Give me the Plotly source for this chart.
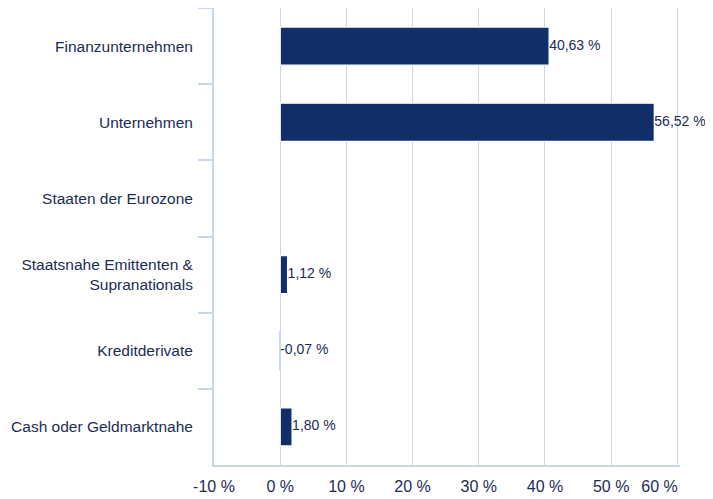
import plotly.graph_objects as go

categories = [
    "Finanzunternehmen",
    "Unternehmen",
    "Staaten der Eurozone",
    "Staatsnahe Emittenten &<br>Supranationals",
    "Kreditderivate",
    "Cash oder Geldmarktnahe",
]
values = [40.63, 56.52, None, 1.12, -0.07, 1.80]
tick_values = [-10, 0, 10, 20, 30, 40, 50, 60]
tick_labels = ["-10 %", "0 %", "10 %", "20 %", "30 %", "40 %", "50 %", "60 %" + "\u00a0" * 8]

NAVY = "#112e68"
TEXT = "#1b2c56"
GRID = "#c9d7ea"
FONT = "Liberation Sans, Arial, Helvetica, sans-serif"

label_cats = [c for c, v in zip(categories, values) if v is not None]
label_x = [max(v, 0) for v in values if v is not None]
label_txt = [f"{v:.2f}".replace(".", ",") + " %" for v in values if v is not None]
# bars thinner than a pixel blend into the zero grid line
bar_colors = [GRID if (v is not None and abs(v) < 0.5) else NAVY for v in values]
border_colors = [GRID if (v is not None and abs(v) < 0.5) else "white" for v in values]

fig = go.Figure()
fig.add_trace(go.Bar(
    y=categories, x=values, orientation="h",
    marker=dict(color=bar_colors, line=dict(color=border_colors, width=1.3)),
    width=0.5, hoverinfo="skip", showlegend=False,
))
fig.add_trace(go.Scatter(
    y=label_cats, x=label_x, mode="text", text=label_txt,
    textposition="middle right",
    textfont=dict(family=FONT, size=14, color=TEXT),
    hoverinfo="skip", showlegend=False, cliponaxis=False,
))

fig.update_layout(
    width=705, height=491,
    margin=dict(l=206, r=33, t=0, b=34),
    paper_bgcolor="white", plot_bgcolor="white",
    font=dict(family=FONT, color=TEXT),
    xaxis=dict(
        range=[-10, 60.4], tickvals=tick_values, ticktext=tick_labels,
        automargin=False, ticklabeloverflow="allow",
        showgrid=True, gridcolor=GRID, gridwidth=1.3,
        zeroline=False, showline=True, linecolor=GRID, linewidth=1.5,
        ticks="", tickfont=dict(family=FONT, size=16, color=TEXT),
        ticklabelstandoff=6,
    ),
    yaxis=dict(
        type="category", categoryorder="array", categoryarray=categories,
        autorange="reversed", automargin=False,
        showgrid=False, zeroline=False, showline=True, linecolor=GRID, linewidth=2,
        ticks="outside", tickson="boundaries", ticklen=14, tickcolor=GRID, tickwidth=2,
        tickfont=dict(family=FONT, size=15.5, color=TEXT),
        ticklabelstandoff=16,
    ),
)

fig.write_html("out.html")
